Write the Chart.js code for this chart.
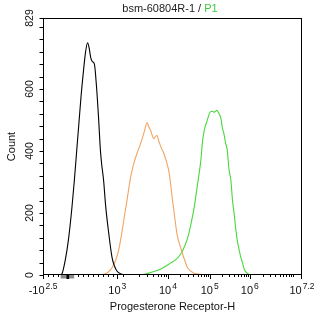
<!DOCTYPE html>
<html>
<head>
<meta charset="utf-8">
<script src="https://cdn.jsdelivr.net/npm/chart.js"></script>
<style>
  html, body { margin: 0; padding: 0; background: #fff; }
  canvas { display: block; }
</style>
</head>
<body>
<canvas id="c" width="314" height="317"></canvas>
<script>
// x values are in display (logicle) units of the channel axis, y values are counts
const blackX = [0.43, 0.47, 0.55, 0.63, 0.72, 0.78, 0.84, 0.90, 0.95, 1.01, 1.06, 1.11, 1.15, 1.19, 1.23, 1.28, 1.33, 1.38, 1.43, 1.46, 1.51, 1.56, 1.63, 1.72, 1.78, 1.84, 1.93, 2.05];
const blackCount = [0, 3, 45, 110, 217, 304, 402, 499, 580, 661, 719, 749, 732, 700, 688, 680, 612, 515, 402, 359, 304, 223, 142, 56, 29, 13, 4, 0];

const orangeX = [1.43, 1.53, 1.63, 1.73, 1.80, 1.88, 1.95, 2.01, 2.09, 2.18, 2.26, 2.34, 2.43, 2.51, 2.55, 2.59, 2.63, 2.68, 2.76, 2.80, 2.84, 2.88, 2.93, 3.01, 3.09, 3.14, 3.18, 3.22, 3.26, 3.34, 3.43, 3.51, 3.59, 3.68, 3.76, 3.93, 4.05];
const orangeCount = [0, 3, 10, 26, 45, 78, 126, 175, 240, 314, 359, 392, 424, 457, 476, 492, 479, 466, 440, 447, 450, 434, 415, 392, 359, 330, 291, 246, 207, 130, 87, 55, 26, 13, 6, 2, 0];

const greenX = [2.43, 2.55, 2.68, 2.80, 2.93, 3.05, 3.18, 3.30, 3.43, 3.55, 3.63, 3.68, 3.76, 3.84, 3.93, 3.97, 4.01, 4.05, 4.09, 4.16, 4.22, 4.26, 4.33, 4.38, 4.43, 4.47, 4.51, 4.55, 4.59, 4.63, 4.68, 4.72, 4.76, 4.80, 4.84, 4.88, 4.93, 4.97, 5.01, 5.05, 5.13, 5.23];
const greenCount = [0, 3, 8, 13, 19, 28, 39, 49, 68, 100, 133, 162, 214, 285, 369, 427, 463, 483, 499, 525, 528, 525, 531, 521, 505, 473, 453, 424, 401, 343, 304, 240, 198, 149, 110, 84, 55, 39, 19, 10, 2, 0];

// axis ticks
const xMajorTicks = [0, 1.85, 3.11, 4.15, 5.15, 6.45];
const xTickBase = ['-10', '10', '10', '10', '10', '10'];
const xTickExp = ['2.5', '3', '4', '5', '6', '7.2'];
const xMinorTicks = [0.125, 0.25, 0.375, 0.5, 0.625, 0.75, 0.875, 1.0, 1.125, 1.25, 1.375, 1.5, 1.625, 1.75,
  2.0, 2.38, 2.58, 2.75, 2.86, 2.94, 3.01, 3.07,
  3.42, 3.61, 3.74, 3.85, 3.93, 4.0, 4.06, 4.11,
  4.45, 4.63, 4.75, 4.85, 4.93, 5.0, 5.05, 5.1,
  5.47, 5.66, 5.79, 5.9, 5.98, 6.05, 6.12, 6.17, 6.22];
const yTicks = [0, 40, 80, 120, 160, 200, 240, 280, 320, 360, 400, 440, 480, 520, 560, 600, 640, 680, 720, 760, 800, 829];
const yLabelTicks = [0, 200, 400, 600, 829];

const titleText = 'bsm-60804R-1 / ';
const titleGate = 'P1';
const xTitle = 'Progesterone Receptor-H';
const yTitle = 'Count';

const FONT = '"Liberation Sans", Arial, sans-serif';

function toPoints(xs, ys) {
  return xs.map((x, i) => ({ x: x, y: ys[i] }));
}

// frame, ticks and labels drawn from the chart scales
const frame = {
  id: 'frame',
  afterDatasetsDraw(chart) {
    const ctx = chart.ctx;
    const a = chart.chartArea;
    const xs = chart.scales.x;
    const ys = chart.scales.y;
    const left = Math.round(a.left) + 0.5;
    const right = Math.round(a.right) - 0.5;
    const top = Math.round(a.top) + 0.5;
    const bottom = Math.round(a.bottom) - 0.5;
    const midX = (left + right) / 2;

    ctx.save();
    ctx.strokeStyle = '#000';
    ctx.lineWidth = 1;
    ctx.strokeRect(left, top, right - left, bottom - top);

    // x ticks
    ctx.beginPath();
    xMinorTicks.forEach(v => {
      const p = Math.round(xs.getPixelForValue(v)) + 0.5;
      ctx.moveTo(p, bottom); ctx.lineTo(p, bottom + 2.5);
    });
    xMajorTicks.forEach(v => {
      const p = Math.min(Math.round(xs.getPixelForValue(v)) + 0.5, right);
      ctx.moveTo(p, bottom); ctx.lineTo(p, bottom + 4.5);
    });
    // y ticks
    yTicks.forEach(v => {
      const p = Math.max(Math.round(ys.getPixelForValue(v)) + 0.5, top);
      ctx.moveTo(left, p); ctx.lineTo(left - 4, p);
    });
    ctx.stroke();

    // zero-region marker on the x axis
    const g0 = xs.getPixelForValue(0.44), g1 = xs.getPixelForValue(0.775);
    ctx.fillStyle = '#8a8a8a';
    ctx.fillRect(g0, bottom + 0.5, g1 - g0, 3.5);
    const k0 = xs.getPixelForValue(0.585), k1 = xs.getPixelForValue(0.65);
    ctx.fillStyle = '#000';
    ctx.fillRect(k0, bottom + 0.5, k1 - k0, 4);

    ctx.fillStyle = '#111';

    // x tick labels with superscript exponents
    xMajorTicks.forEach((v, i) => {
      const p = xs.getPixelForValue(v);
      ctx.font = '11px ' + FONT;
      const wb = ctx.measureText(xTickBase[i]).width;
      ctx.font = '8.5px ' + FONT;
      const we = ctx.measureText(xTickExp[i]).width;
      const x0 = p - (wb + we + 1) / 2;
      ctx.textAlign = 'left';
      ctx.textBaseline = 'alphabetic';
      ctx.font = '11px ' + FONT;
      ctx.fillText(xTickBase[i], x0, 293.5);
      ctx.font = '8.5px ' + FONT;
      ctx.fillText(xTickExp[i], x0 + wb + 1, 289);
    });

    // y tick labels, rotated
    ctx.font = '10.5px ' + FONT;
    ctx.textAlign = 'center';
    ctx.textBaseline = 'middle';
    yLabelTicks.forEach(v => {
      const p = ys.getPixelForValue(v);
      ctx.save();
      ctx.translate(30, p);
      ctx.rotate(-Math.PI / 2);
      ctx.fillText(String(v), 0, 0);
      ctx.restore();
    });

    // axis titles
    ctx.font = '11px ' + FONT;
    ctx.fillText(xTitle, midX, 307);
    ctx.save();
    ctx.translate(12, (top + bottom) / 2);
    ctx.rotate(-Math.PI / 2);
    ctx.fillText(yTitle, 0, 0);
    ctx.restore();

    // title with coloured gate name
    ctx.font = '11px ' + FONT;
    const w1 = ctx.measureText(titleText).width;
    const w2 = ctx.measureText(titleGate).width;
    const tx = 170 - (w1 + w2) / 2;
    ctx.textAlign = 'left';
    ctx.fillStyle = '#222';
    ctx.fillText(titleText, tx, 8.5);
    ctx.fillStyle = '#3cc83c';
    ctx.fillText(titleGate, tx + w1, 8.5);
    ctx.restore();
  }
};

const lineStyle = { borderWidth: 1.1, pointRadius: 0, fill: false, cubicInterpolationMode: 'monotone' };

new Chart(document.getElementById('c').getContext('2d'), {
  type: 'line',
  data: {
    datasets: [
      Object.assign({ label: 'Isotype', data: toPoints(blackX, blackCount), borderColor: '#000000' }, lineStyle),
      Object.assign({ label: 'Cells', data: toPoints(orangeX, orangeCount), borderColor: '#f2a464' }, lineStyle),
      Object.assign({ label: 'bsm-60804R-1', data: toPoints(greenX, greenCount), borderColor: '#48d83c' }, lineStyle)
    ]
  },
  options: {
    responsive: false,
    animation: false,
    devicePixelRatio: 1,
    layout: { padding: { left: 43, right: 12, top: 18, bottom: 42 } },
    plugins: { legend: { display: false }, tooltip: { enabled: false }, title: { display: false } },
    scales: {
      x: { type: 'linear', min: 0, max: 6.45, display: false },
      y: { type: 'linear', min: 0, max: 829, display: false }
    }
  },
  plugins: [frame]
});
</script>
</body>
</html>
